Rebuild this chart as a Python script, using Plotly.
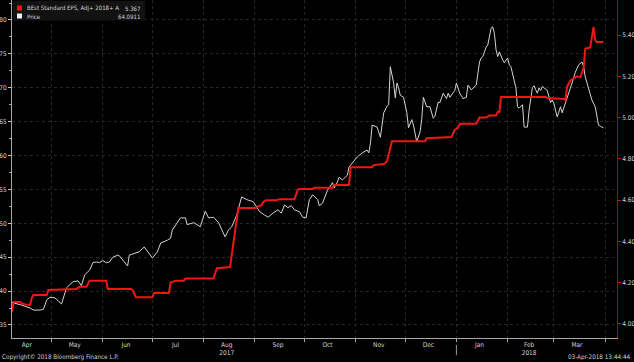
import plotly.graph_objects as go
import pandas as pd

# ---------------- data ----------------
start_date = "2017-04-07"

price_day = [0, 5, 11, 13, 17, 19, 21, 23, 26, 27, 29, 30, 33, 37, 40, 42, 44, 47, 49, 51,
             53, 55, 57, 59, 61, 64, 65, 67, 70, 71, 73, 77, 80, 82, 85, 88, 90, 94, 96, 97,
             102, 105, 106, 110, 114, 117, 119, 122, 125, 129, 131, 133, 136, 139, 142, 146, 148, 150, 153, 155,
             158, 161, 163, 165, 167, 169, 171, 174, 176, 178, 180, 182, 185, 186, 188, 189, 191, 194, 195, 197,
             198, 200, 203, 204, 206, 208, 209, 212, 215, 216, 217, 218, 221, 223, 225, 227, 228, 229, 231, 232,
             233, 234, 235, 237, 239, 240, 242, 243, 245, 247, 248, 249, 251, 253, 255, 256, 258, 259, 261, 263,
             264, 265, 266, 268, 269, 271, 273, 275, 276, 278, 281, 283, 284, 285, 287, 288, 290, 291, 292, 293,
             294, 295, 297, 298, 300, 301, 302, 303, 305, 306, 307, 309, 310, 312, 313, 315, 316, 317, 318, 319,
             320, 321, 323, 324, 326, 327, 328, 330, 331, 332, 333, 335, 337, 339, 341, 343, 345, 346, 347, 348,
             349, 351, 353, 354, 355, 357, 358]
price_value = [38.3, 38.0, 37.5, 37.2, 37.2, 37.3, 38.7, 39.1, 39.0, 38.8, 38.3, 38.1, 40.5, 41.4, 41.5, 40.8, 42.4, 43.1, 44.2, 44.3,
               44.2, 44.5, 44.2, 44.3, 45.0, 45.3, 45.2, 44.6, 43.7, 45.3, 45.5, 45.8, 46.5, 45.8, 44.9, 45.8, 47.1, 47.5, 47.8, 49.0,
               50.8, 50.8, 49.8, 50.1, 49.5, 51.8, 50.8, 50.9, 50.1, 48.0, 49.0, 49.5, 51.2, 53.9, 53.5, 53.2, 52.4, 51.7, 51.2, 50.9,
               51.5, 52.0, 51.5, 52.7, 52.3, 52.6, 52.0, 51.7, 50.9, 50.8, 53.5, 54.2, 53.5, 52.6, 53.0, 53.7, 54.9, 56.0, 55.2, 56.1,
               56.8, 56.4, 57.1, 58.3, 58.9, 59.4, 59.8, 60.4, 60.8, 60.4, 61.9, 64.5, 64.2, 62.7, 66.3, 67.3, 67.5, 73.1, 70.7, 68.5,
               70.7, 70.0, 68.9, 68.6, 66.3, 64.1, 65.3, 64.5, 62.0, 63.5, 65.3, 68.6, 67.2, 67.2, 65.5, 65.8, 67.9, 67.8, 69.2, 68.4,
               69.2, 68.6, 69.0, 69.6, 70.7, 69.2, 68.4, 68.6, 70.4, 69.7, 70.4, 73.8, 74.4, 74.6, 76.0, 76.3, 78.8, 79.0, 78.0, 75.6,
               74.6, 75.3, 74.1, 73.7, 74.4, 73.4, 73.1, 72.2, 70.0, 67.2, 67.0, 67.5, 64.2, 64.2, 66.7, 70.0, 70.3, 69.7, 69.2, 70.0,
               69.6, 70.2, 69.7, 69.6, 67.8, 68.2, 67.7, 65.7, 66.4, 67.2, 66.3, 67.7, 69.4, 70.7, 72.3, 73.4, 73.8, 73.1, 71.6, 70.7,
               69.7, 68.2, 67.2, 65.5, 64.5, 64.2, 64.0911]

eps_day = [0, 1, 5, 6, 8, 11, 12, 13, 21, 22, 39, 41, 45, 47, 57, 58, 72, 73, 75, 85,
           86, 95, 96, 99, 104, 105, 122, 124, 132, 137, 148, 149, 151, 152, 154, 160, 162, 171, 173, 174,
           182, 183, 194, 195, 204, 205, 218, 219, 225, 226, 227, 229, 230, 250, 251, 266, 268, 270, 271, 281,
           283, 287, 289, 293, 294, 295, 296, 323, 324, 334, 335, 336, 338, 340, 342, 344, 345, 346, 347, 350,
           352, 353, 354, 357, 358]
eps_value = [4.06, 4.106, 4.106, 4.100, 4.095, 4.092, 4.126, 4.14, 4.14, 4.165, 4.17, 4.18, 4.18, 4.21, 4.21, 4.17, 4.17, 4.165, 4.13, 4.13,
             4.15, 4.15, 4.20, 4.21, 4.21, 4.22, 4.22, 4.27, 4.276, 4.562, 4.562, 4.57, 4.575, 4.59, 4.60, 4.60, 4.605, 4.605, 4.65, 4.654,
             4.654, 4.66, 4.66, 4.673, 4.673, 4.76, 4.76, 4.77, 4.775, 4.78, 4.79, 4.86, 4.886, 4.886, 4.90, 4.906, 4.94, 4.95, 4.97, 4.97,
             5.00, 5.00, 5.01, 5.01, 5.027, 5.027, 5.10, 5.10, 5.095, 5.09, 5.085, 5.15, 5.18, 5.19, 5.20, 5.195, 5.22, 5.24, 5.335, 5.34,
             5.44, 5.376, 5.366, 5.366, 5.367]

month_label_dates = ["2017-04-16", "2017-05-15", "2017-06-15", "2017-07-15", "2017-08-15", "2017-09-15",
                     "2017-10-15", "2017-11-15", "2017-12-15", "2018-01-15", "2018-02-14", "2018-03-15"]
month_labels = ["Apr", "May", "Jun", "Jul", "Aug<br>2017", "Sep", "Oct", "Nov", "Dec", "Jan", "Feb<br>2018", "Mar"]
left_ticks = [35, 40, 45, 50, 55, 60, 65, 70, 75, 80]
right_ticks = [4.00, 4.20, 4.40, 4.60, 4.80, 5.00, 5.20, 5.40]

eps_name = "BEst Standard EPS, Adj+ 2018+ A"
eps_last = "5.367"
price_name = "Price"
price_last = "64.0911"
copyright_text = "Copyright\u00a9 2018 Bloomberg Finance L.P."
stamp_text = "03-Apr-2018 13:44:44"

# ---------------- layout constants ----------------
W, H = 634, 362
L, R, T, B = 12, 17, 0, 24
FONT = "Liberation Sans Narrow, Arial Narrow, DejaVu Sans Condensed, Liberation Sans, sans-serif"
TXT = "#d4d4d4"

base = pd.Timestamp(start_date)
price_x = base + pd.to_timedelta(price_day, unit="D")
eps_x = base + pd.to_timedelta(eps_day, unit="D")


def px(x):
    return (x - L) / (W - L - R)


def py(y):
    return (H - B - y) / (H - T - B)


fig = go.Figure()
fig.add_trace(go.Scatter(x=price_x, y=price_value, mode="lines", yaxis="y",
                         line=dict(color="#d4d4d4", width=1), hoverinfo="skip"))
fig.add_trace(go.Scatter(x=eps_x, y=eps_value, mode="lines", yaxis="y2",
                         line=dict(color="#f01616", width=2), hoverinfo="skip"))

shapes = [
    dict(type="rect", xref="paper", yref="paper", x0=px(13), x1=px(145), y0=py(20.5), y1=py(1),
         fillcolor="#121212", line=dict(width=0), layer="above"),
    dict(type="rect", xref="paper", yref="paper", x0=px(17), x1=px(22), y0=py(10.5), y1=py(5.5),
         fillcolor="#ff1010", line=dict(width=0), layer="above"),
    dict(type="rect", xref="paper", yref="paper", x0=px(17), x1=px(22), y0=py(18.5), y1=py(13.5),
         fillcolor="#f2f2f2", line=dict(width=0), layer="above"),
    dict(type="line", xref="x", yref="paper", x0="2018-01-01", x1="2018-01-01", y0=py(345), y1=py(355),
         line=dict(color="#9a9a9a", width=1)),
]

LEG = 6.0
annotations = [
    dict(text=eps_name, x=px(25), y=py(8), xanchor="left", yanchor="middle", size=LEG),
    dict(text=eps_last, x=px(142), y=py(8), xanchor="right", yanchor="middle", size=LEG),
    dict(text=price_name, x=px(25), y=py(16), xanchor="left", yanchor="middle", size=LEG),
    dict(text=price_last, x=px(142), y=py(16), xanchor="right", yanchor="middle", size=LEG),
    dict(text=copyright_text, x=px(0), y=py(357), xanchor="left", yanchor="middle", size=6.3),
    dict(text=stamp_text, x=px(633), y=py(357), xanchor="right", yanchor="middle", size=6.3),
]
for a in annotations:
    s = a.pop("size")
    a.update(xref="paper", yref="paper", showarrow=False, font=dict(family=FONT, size=s, color=TXT))

fig.update_layout(
    template="none",
    width=W, height=H,
    margin=dict(l=L, r=R, t=T, b=B, pad=0),
    paper_bgcolor="#000000", plot_bgcolor="#000000",
    showlegend=False,
    font=dict(family=FONT, size=7, color=TXT),
    shapes=shapes,
    annotations=annotations,
    xaxis=dict(
        type="date",
        range=["2017-04-07", "2018-04-08 05:00"],
        tickmode="array", tickvals=month_label_dates, ticktext=month_labels,
        ticks="", showgrid=False, zeroline=False,
        showline=True, linecolor="#a8a8a8", linewidth=1,
        tickfont=dict(family=FONT, size=6.5, color=TXT),
        automargin=False,
        minor=dict(dtick="M1", tick0="2017-01-01", ticks="outside", ticklen=3,
                   tickcolor="#a8a8a8", tickwidth=1,
                   showgrid=True, gridcolor="#262626", griddash="dot", gridwidth=1),
    ),
    yaxis=dict(
        range=[33.08, 82.95],
        tickmode="array", tickvals=left_ticks, ticktext=[str(v) for v in left_ticks],
        ticks="outside", ticklen=3, tickcolor="#c8c8c8", tickwidth=1,
        showline=True, linecolor="#a8a8a8", linewidth=1,
        showgrid=True, gridcolor="#262626", griddash="dot", gridwidth=1,
        zeroline=False, automargin=False,
        tickfont=dict(family=FONT, size=6.5, color=TXT),
        minor=dict(dtick=2.5, tick0=0, ticks="outside", ticklen=2, tickcolor="#a8a8a8", showgrid=False),
    ),
    yaxis2=dict(
        overlaying="y", side="right", anchor="x",
        range=[3.932, 5.570],
        tickmode="array", tickvals=right_ticks, ticktext=[f"{v:.2f}" for v in right_ticks],
        ticks="outside", ticklen=3, tickcolor="#d01010", tickwidth=1,
        showline=True, linecolor="#b00000", linewidth=1,
        showgrid=False, zeroline=False, automargin=False,
        tickfont=dict(family=FONT, size=6.5, color=TXT),
    ),
)

fig.write_html(
    "out.html",
    config={"displayModeBar": False, "staticPlot": True},
    post_script="document.body.style.margin='0';document.body.style.padding='0';"
                "document.body.style.background='#000';",
)
